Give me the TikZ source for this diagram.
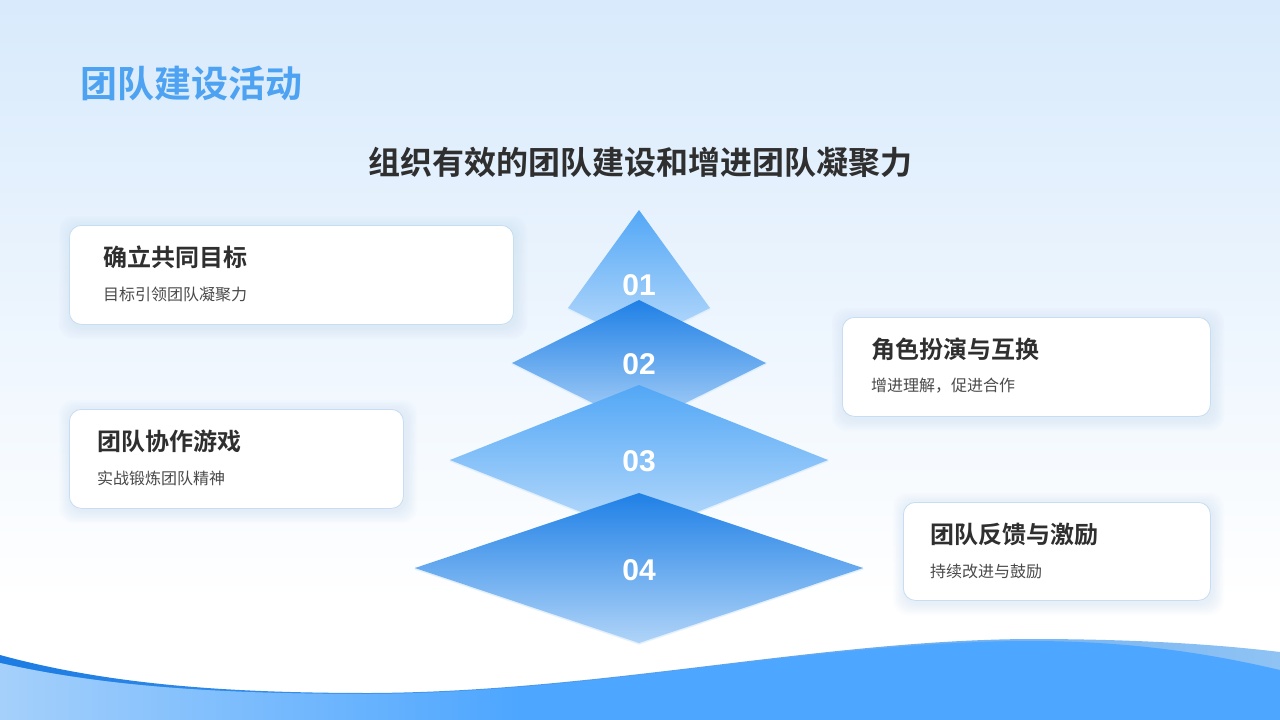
\documentclass[tikz,border=0pt]{standalone}
\usepackage{fontspec}
\usepackage{tikz}
\setmainfont{Noto Sans CJK SC}[BoldFont={Noto Sans CJK SC Bold}]
\newfontfamily\numfont{Liberation Sans}
\usetikzlibrary{positioning}
\definecolor{bgtop}{HTML}{D8EAFC}
\definecolor{titleblue}{HTML}{4DA3F2}
\definecolor{darktext}{HTML}{2F2F2F}
\definecolor{greytext}{HTML}{4A4A4A}
\definecolor{cardline}{HTML}{C6DDF3}
\definecolor{cardglow}{HTML}{B3D3F3}
\definecolor{halo}{HTML}{DCEDFD}
\definecolor{wavefront}{HTML}{4DA6FF}
\definecolor{waveleft}{HTML}{A5D0FB}
\definecolor{wavedark}{HTML}{1C7CE3}
\definecolor{wavelight}{HTML}{8FC3F4}
\definecolor{stepAtop}{HTML}{52A7F6}
\definecolor{stepAbot}{HTML}{BCDCFB}
\definecolor{stepBtop}{HTML}{1F80E6}
\definecolor{stepBbot}{HTML}{B0D4F8}
\tikzstyle{card}=[draw=cardline,fill=white,line width=0.8pt,rounded corners=12pt,inner sep=0pt,anchor=north west]
\tikzstyle{head}=[anchor=west,inner sep=0pt,text=darktext,font=\bfseries\fontsize{24}{24}\selectfont]
\tikzstyle{note}=[anchor=west,inner sep=0pt,text=greytext,font=\fontsize{16}{16}\selectfont]
\tikzstyle{num}=[inner sep=0pt,text=white,font=\numfont\bfseries\fontsize{30}{30}\selectfont]

\begin{document}
\begin{tikzpicture}[x=1pt,y=-1pt]
    \useasboundingbox (0,0) rectangle (1280,720);
    % Background
    \fill[white] (0,0) rectangle (1280,720);
    \shade[top color=bgtop,bottom color=white] (0,0) rectangle (1280,600);
    % Waves at the bottom
    \shade[left color=wavedark,right color=wavelight] (0,655) .. controls (110,685) and (230,693) .. (370,693)
        .. controls (600,692) and (820,640) .. (1030,639) .. controls (1150,639) and (1230,646) .. (1280,652)
        -- (1280,720) -- (0,720) -- cycle;
    \begin{scope}
        \clip (0,663) .. controls (110,688) and (230,694) .. (370,694)
            .. controls (600,693) and (820,641) .. (1030,641) .. controls (1140,641) and (1220,656) .. (1280,670)
            -- (1280,720) -- (0,720) -- cycle;
        \fill[wavefront] (0,600) rectangle (1280,720);
        \shade[left color=waveleft,right color=wavefront] (0,600) rectangle (520,720);
    \end{scope}
    % Titles
    \node[anchor=west,inner sep=0pt,text=titleblue,font=\bfseries\fontsize{37}{37}\selectfont] (title) at (80,83) {团队建设活动};
    \node[inner sep=0pt,text=darktext,font=\bfseries\fontsize{32}{32}\selectfont] (subtitle) at (640,162) {组织有效的团队建设和增进团队凝聚力};
    % Cards
    \foreach \x/\y/\w/\h/\tx/\name/\head/\note in {69/225/444/99/103/goal/确立共同目标/目标引领团队凝聚力,
        842/317/368/99/871/role/角色扮演与互换/增进理解，促进合作,
        69/409/334/99/97/game/团队协作游戏/实战锻炼团队精神,
        903/502/307/98/930/reward/团队反馈与激励/持续改进与鼓励}
    {
        \foreach \s in {1,...,8}
            \fill[cardglow,opacity=0.035,rounded corners=14pt] (\x-\s*1.5+2,\y-\s*1.5+3) rectangle ++(\w+\s*3,\h+\s*3);
        \node[card,minimum width=\w pt,minimum height=\h pt] (\name) at (\x,\y) {};
        \node[head] (\name-head) at (\tx,\y+32) {\head};
        \node[note] (\name-note) at (\tx,\y+69) {\note};
    }
    % Stacked steps, drawn from the top one down
    \foreach \top/\mid/\hw/\bot/\ctop/\cbot/\ly/\name in {210/308/71/343/stepAtop/stepAbot/285/01,
        300/363/127/426/stepBtop/stepBbot/364/02,
        385/460/189/535/stepAtop/stepAbot/461/03,
        493/568/224/643/stepBtop/stepBbot/570/04}
    {
        \draw[halo,line width=3pt,opacity=0.8] (639-\hw,\mid) -- (639,\bot) -- (639+\hw,\mid);
        \shade[top color=\ctop,bottom color=\cbot] (639,\top) -- (639+\hw,\mid) -- (639,\bot) -- (639-\hw,\mid) -- cycle;
        \node[num] (step\name) at (639,\ly) {\name};
    }
\end{tikzpicture}
\end{document}
